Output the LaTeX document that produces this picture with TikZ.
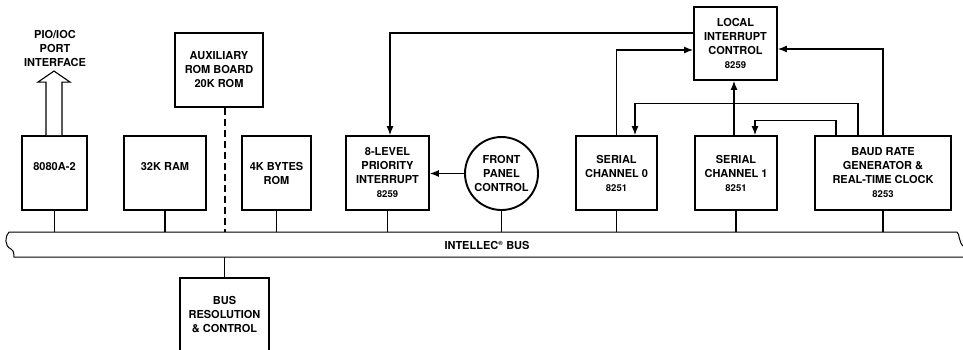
\documentclass[tikz,border=0pt]{standalone}
\usepackage{fontspec}
\setmainfont{TeX Gyre Heros}
\usetikzlibrary{arrows.meta}
\tikzset{
  blk/.style={draw, line width=1.9pt, minimum height=74pt, inner sep=0pt, align=center,
    font=\fontsize{11}{14}\selectfont\bfseries},
  circ/.style={draw, circle, line width=1.9pt, minimum size=73pt, inner sep=0pt, align=center,
    font=\fontsize{11}{14}\selectfont\bfseries},
  txt/.style={align=center, inner sep=0pt, font=\fontsize{11}{14}\selectfont\bfseries},
  conn/.style={line width=1.1pt},
  arr/.style={line width=1.1pt, -{Latex[length=9pt,width=7pt]}},
  busline/.style={line width=1pt},
}
\newcommand{\num}[1]{{\fontsize{9.5}{14}\selectfont #1}}
\begin{document}
\begin{tikzpicture}[x=1pt,y=-1pt]
\useasboundingbox (0,0) rectangle (963,349);
\clip (0,0) rectangle (963,349);
% boxes
\node[blk, minimum width=65pt] (cpu) at (54.5,173) {8080A-2\\\mbox{}};
\node[blk, minimum width=82pt] (ram) at (165,173) {32K RAM\\\mbox{}};
\node[blk, minimum width=88pt] (aux) at (219,70) {AUXILIARY\\ROM BOARD\\20K ROM};
\node[blk, minimum width=69pt] (rom) at (276.5,173) {4K BYTES\\ROM};
\node[blk, minimum width=83pt] (pri) at (387.5,173) {8-LEVEL\\PRIORITY\\INTERRUPT\\\num{8259}};
\node[circ] (fp) at (501.5,173.5) {FRONT\\PANEL\\CONTROL};
\node[blk, minimum width=81pt] (s0) at (616.5,173) {SERIAL\\CHANNEL 0\\\num{8251}};
\node[blk, minimum width=82pt] (s1) at (736,173) {SERIAL\\CHANNEL 1\\\num{8251}};
\node[blk, minimum width=136pt] (baud) at (883,173) {BAUD RATE\\GENERATOR \&\\REAL-TIME CLOCK\\\num{8253}};
\node[blk, minimum width=83pt, minimum height=73pt] (lic) at (735.5,43.5) {LOCAL\\INTERRUPT\\CONTROL\\\num{8259}};
\node[blk, minimum width=89pt] (bres) at (224.5,315) {BUS\\RESOLUTION\\\& CONTROL};
\node[txt] (pio) at (55,48) {PIO/IOC\\PORT\\INTERFACE};
% bus
\coordinate (bustop) at (0,232);
\coordinate (busbot) at (0,257);
\node[txt] (bus) at (487,245.5) {INTELLEC\textsuperscript{\fontsize{6}{6}\selectfont ®} BUS};
\draw[busline] (9,232) -- (957,232) .. controls (960,234) and (958,242) .. (964,247);
\draw[busline] (9,232) .. controls (5,236) and (4,246) .. (11,249) .. controls (14,251) and (14,254) .. (14,257) -- (964,257);
% hollow arrow
\draw[line width=1.1pt, fill=white, line join=miter] ([xshift=-8.5pt]cpu.north) -- ++(0,-53) -- ++(-8,0) -- ++(16,-11) -- ++(16,11) -- ++(-8,0) -- ([xshift=7.5pt]cpu.north);
% bus taps
\foreach \n in {cpu,ram,rom,pri,fp,s0,s1,baud}
  \draw[conn] (\n.south) -- (\n.south |- bustop);
\draw[conn] (bres.north) -- (bres.north |- busbot);
\draw[line width=1.2pt, dash pattern=on 7pt off 4pt] ([xshift=6pt]aux.south) -- ([xshift=6pt]aux.south |- bustop);
% interrupt lines
\draw[arr] ([yshift=10.5pt]lic.west) -| ([xshift=2.5pt]pri.north);
\draw[arr] (fp.west) -- (fp.west -| pri.east);
\draw[arr] (s0.north) |- ([yshift=-6.5pt]lic.west);
\draw[arr] ([xshift=-2pt]s1.north) -- ([xshift=-2pt]s1.north |- lic.south);
\draw[arr] (baud.north) |- ([yshift=-5.5pt]lic.east);
\draw[arr] ([xshift=-25pt]baud.north) -- ++(0,-32) -| ([xshift=18.5pt]s0.north);
\draw[arr] ([xshift=-47pt]baud.north) -- ++(0,-15) -| ([xshift=19pt]s1.north);
\end{tikzpicture}
\end{document}
